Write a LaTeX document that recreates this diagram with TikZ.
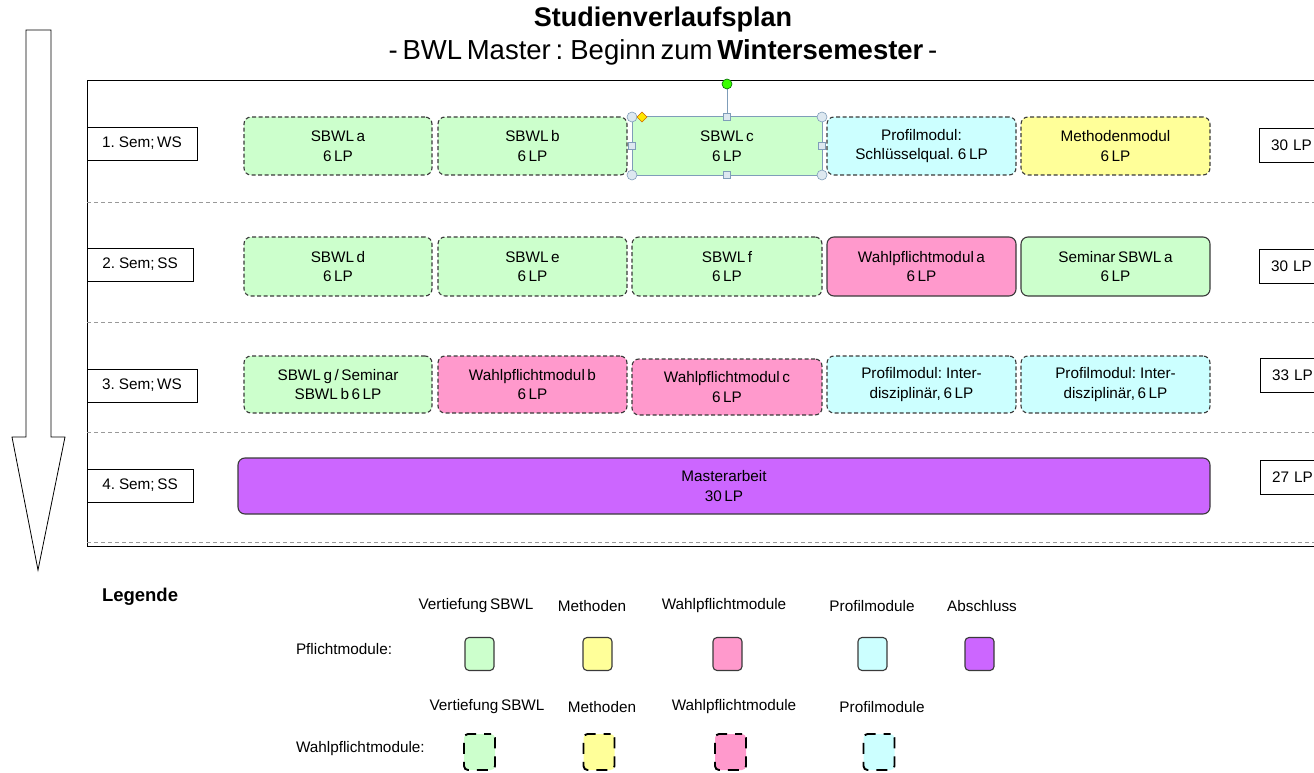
\documentclass[tikz,border=0pt]{standalone}
\usepackage{fontspec}
\setmainfont{Liberation Sans}
\usetikzlibrary{shapes.geometric}
\definecolor{cgreen}{HTML}{CCFFCC}
\definecolor{cyellow}{HTML}{FFFF99}
\definecolor{cpink}{HTML}{FF99CC}
\definecolor{ccyan}{HTML}{CCFFFF}
\definecolor{cpurple}{HTML}{CC66FF}
\definecolor{cborder}{HTML}{3A3A3A}
\definecolor{csel}{HTML}{7F9DB9}
\definecolor{chandle}{HTML}{DDE8F0}
\newcommand{\tightsp}{\spaceskip=0.17em plus 0.05em\relax}
\begin{document}
\begin{tikzpicture}[x=1pt,y=-1pt,
  every node/.style={font=\fontsize{15.3}{19.5}\selectfont\tightsp, inner sep=0pt, outer sep=0pt},
  mod/.style={draw=cborder, line width=1.1pt, rounded corners=7pt, align=center},
  opt/.style={mod, dash pattern=on 4pt off 2.5pt},
  sembox/.style={draw=black, line width=0.9pt, fill=white, anchor=north west, inner xsep=0pt},
  lpbox/.style={draw=black, line width=0.9pt, fill=white, anchor=north west},
  sep/.style={draw=gray!80, dash pattern=on 4pt off 3pt, line width=0.8pt},
  leg/.style={draw=cborder, line width=1.1pt, rounded corners=4pt, minimum width=29pt, minimum height=33pt},
  legopt/.style={draw=black, line width=1.9pt, rounded corners=4pt, dash pattern=on 11pt off 8pt, dash phase=4pt, minimum width=31pt, minimum height=36pt},
  legtxt/.style={font=\fontsize{15.3}{18}\selectfont\tightsp},
  handle/.style={draw=csel, fill=chandle, line width=0.6pt}
]
\useasboundingbox (0,0) rectangle (1314,773);
\clip (0,0) rectangle (1314,773);

% title
\node (title) at (663,20) {\fontsize{27}{30}\selectfont\bfseries Studienverlaufsplan};
\node (subtitle) at (663,52) {\fontsize{27.5}{30}\selectfont\tightsp - BWL Master : Beginn zum \textbf{Wintersemester} -};

% big arrow
\draw[line width=0.8pt, fill=white] (26,30) -- (51,30) -- (51,437) -- (65,437) -- (38,570) -- (12,437) -- (26,437) -- cycle;

% frame
\draw[line width=1pt] (1320,81) -- (87,81) -- (87,546) -- (1320,546);
\foreach \y in {202,322,432,542} \draw[sep] (87,\y) -- (1320,\y);

% semester labels
\node[sembox, minimum width=110pt, minimum height=33pt] (s1) at (87,127) {1. Sem; WS};
\node[sembox, minimum width=106pt, minimum height=33pt] (s2) at (87,248) {2. Sem; SS};
\node[sembox, minimum width=110pt, minimum height=33pt] (s3) at (87,369) {3. Sem; WS};
\node[sembox, minimum width=106pt, minimum height=33pt] (s4) at (87,469) {4. Sem; SS};

% LP boxes
\node[lpbox, minimum width=75pt, minimum height=34pt, text width=51pt] (lp1) at (1259,128) {30 LP};
\node[lpbox, minimum width=75pt, minimum height=34pt, text width=51pt] (lp2) at (1259,249) {30 LP};
\node[lpbox, minimum width=75pt, minimum height=34pt, text width=51pt] (lp3) at (1260,358) {33 LP};
\node[lpbox, minimum width=75pt, minimum height=34pt, text width=51pt] (lp4) at (1260,460) {27 LP};

% row 1
\node[opt, fill=cgreen, minimum width=188pt, minimum height=58pt] (m11) at (338,146) {SBWL a\\6 LP};
\node[opt, fill=cgreen, minimum width=189pt, minimum height=58pt] (m12) at (532.5,146) {SBWL b\\6 LP};
\node[draw=csel, line width=1pt, fill=cgreen, align=center, minimum width=190pt, minimum height=58pt] (m13) at (727,146) {SBWL c\\6 LP};
\node[opt, fill=ccyan, minimum width=189pt, minimum height=58pt] (m14) at (921.5,146) {Profilmodul:\\Schlüsselqual. 6 LP};
\node[opt, fill=cyellow, minimum width=189pt, minimum height=58pt] (m15) at (1115.5,146) {Methodenmodul\\6 LP};

% selection handles on SBWL c
\coordinate (rot) at (727,84);
\draw[csel, line width=1pt] (m13.north) -- (rot);
\node[circle, draw=green!40!black, fill=green!70!lime, minimum size=10pt, line width=0.6pt] (rotc) at (rot) {};
\foreach \a in {north west, north east, south west, south east}
  \node[handle, circle, minimum size=10pt] at (m13.\a) {};
\foreach \a in {north, south, west, east}
  \node[handle, rectangle, minimum size=7pt] at (m13.\a) {};
\node[diamond, draw=orange!80!black, fill=yellow!90!orange, line width=0.5pt, minimum size=10pt] (adj) at (642,117) {};

% row 2
\node[opt, fill=cgreen, minimum width=188pt, minimum height=59pt] (m21) at (338,266.5) {SBWL d\\6 LP};
\node[opt, fill=cgreen, minimum width=189pt, minimum height=59pt] (m22) at (532.5,266.5) {SBWL e\\6 LP};
\node[opt, fill=cgreen, minimum width=190pt, minimum height=59pt] (m23) at (727,266.5) {SBWL f\\6 LP};
\node[mod, fill=cpink, minimum width=189pt, minimum height=59pt] (m24) at (921.5,266.5) {Wahlpflichtmodul a\\6 LP};
\node[mod, fill=cgreen, minimum width=189pt, minimum height=59pt] (m25) at (1115.5,266.5) {Seminar SBWL a\\6 LP};

% row 3
\node[opt, fill=cgreen, minimum width=188pt, minimum height=57pt] (m31) at (338,384.5) {SBWL g / Seminar\\SBWL b 6 LP};
\node[opt, fill=cpink, minimum width=189pt, minimum height=57pt] (m32) at (532.5,384.5) {Wahlpflichtmodul b\\6 LP};
\node[opt, fill=cpink, minimum width=190pt, minimum height=56pt] (m33) at (727,387) {Wahlpflichtmodul c\\6 LP};
\node[opt, fill=ccyan, minimum width=189pt, minimum height=57pt] (m34) at (921.5,384.5) {Profilmodul: Inter-\\disziplinär, 6 LP};
\node[opt, fill=ccyan, minimum width=189pt, minimum height=57pt] (m35) at (1115.5,384.5) {Profilmodul: Inter-\\disziplinär, 6 LP};

% row 4
\node[mod, fill=cpurple, minimum width=972pt, minimum height=56pt] (m41) at (724,486) {Masterarbeit\\30 LP};

% legend
\node[anchor=west] (legende) at (102,597) {\fontsize{18.5}{22}\selectfont\bfseries Legende};
\node[legtxt] (h1) at (476,606) {Vertiefung SBWL};
\node[legtxt] (h2) at (592,606) {Methoden};
\node[legtxt] (h3) at (724,606) {Wahlpflichtmodule};
\node[legtxt] (h4) at (872,606) {Profilmodule};
\node[legtxt] (h5) at (982,606) {Abschluss};
\node[legtxt, anchor=west] (pf) at (296,649) {Pflichtmodule:};
\node[leg, fill=cgreen] (p1) at (479.5,654) {};
\node[leg, fill=cyellow] (p2) at (597.5,654) {};
\node[leg, fill=cpink] (p3) at (727.5,654) {};
\node[leg, fill=ccyan] (p4) at (872.5,654) {};
\node[leg, fill=cpurple] (p5) at (979.5,654) {};

\node[legtxt] (k1) at (487,707) {Vertiefung SBWL};
\node[legtxt] (k2) at (602,707) {Methoden};
\node[legtxt] (k3) at (734,707) {Wahlpflichtmodule};
\node[legtxt] (k4) at (882,707) {Profilmodule};
\node[legtxt, anchor=west] (wp) at (296,749) {Wahlpflichtmodule:};
\node[legopt, fill=cgreen] (w1) at (479.5,752) {};
\node[legopt, fill=cyellow] (w2) at (599,752) {};
\node[legopt, fill=cpink] (w3) at (730.5,752) {};
\node[legopt, fill=ccyan] (w4) at (879,752) {};
\end{tikzpicture}
\end{document}
